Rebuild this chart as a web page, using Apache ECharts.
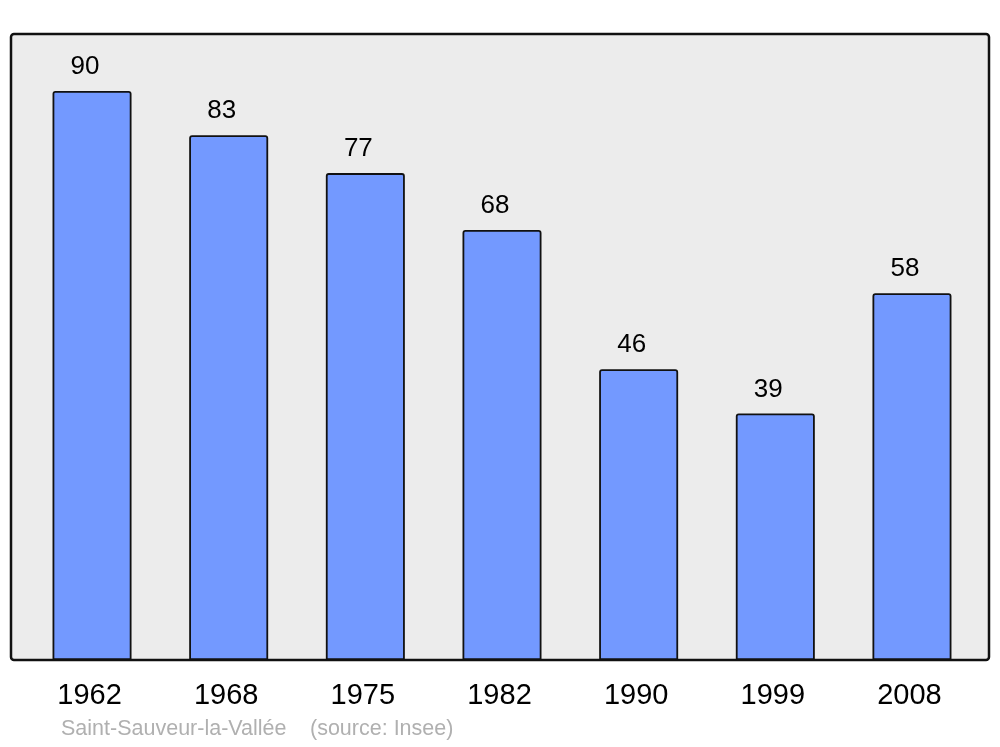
<!DOCTYPE html>
<html><head><meta charset="utf-8">
<script src="https://cdn.jsdelivr.net/npm/echarts@6/dist/echarts.min.js"></script>
<style>html,body{margin:0;padding:0;background:#fff}#c{width:1000px;height:747px}</style>
</head><body><div id="c"></div>
<script>
const categories = ['1962','1968','1975','1982','1990','1999','2008'];
const population = [90, 83, 77, 68, 46, 39, 58];
const footerName = 'Saint-Sauveur-la-Vallée';
const footerSource = '(source: Insee)';

const chart = echarts.init(document.getElementById('c'), null, {renderer: 'canvas'});
chart.setOption({
  animation: false,
  backgroundColor: '#ffffff',
  graphic: [
    {type: 'rect', z: -10, shape: {x: 11, y: 34, width: 978, height: 626, r: 3},
     style: {fill: '#ececec', stroke: '#111', lineWidth: 2.5}},
    {type: 'text', left: 61, top: 718, style: {text: footerName, fill: '#b0b0b0', font: '21.5px "Liberation Sans", Arial, sans-serif'}},
    {type: 'text', left: 310, top: 718, style: {text: footerSource, fill: '#b0b0b0', font: '21.5px "Liberation Sans", Arial, sans-serif'}}
  ],
  grid: {left: 23.7, right: 19.7, top: 34, bottom: 87},
  xAxis: {
    type: 'category', data: categories,
    axisLine: {show: false}, axisTick: {show: false},
    axisLabel: {color: '#000', fontSize: 29, fontFamily: 'Liberation Sans', margin: 21, padding: [0, 5, 0, 0]}
  },
  yAxis: {
    type: 'value', min: 0, max: 99,
    show: false, splitLine: {show: false}
  },
  series: [{
    type: 'bar', data: population, barWidth: 79,
    itemStyle: {color: '#7399ff', borderColor: '#111', borderWidth: 1.8, borderRadius: [2,2,0,0]},
    label: {show: true, position: 'top', distance: 11, offset: [-7, 0], color: '#000', fontSize: 26, fontFamily: 'Liberation Sans'}
  }]
});
</script></body></html>
